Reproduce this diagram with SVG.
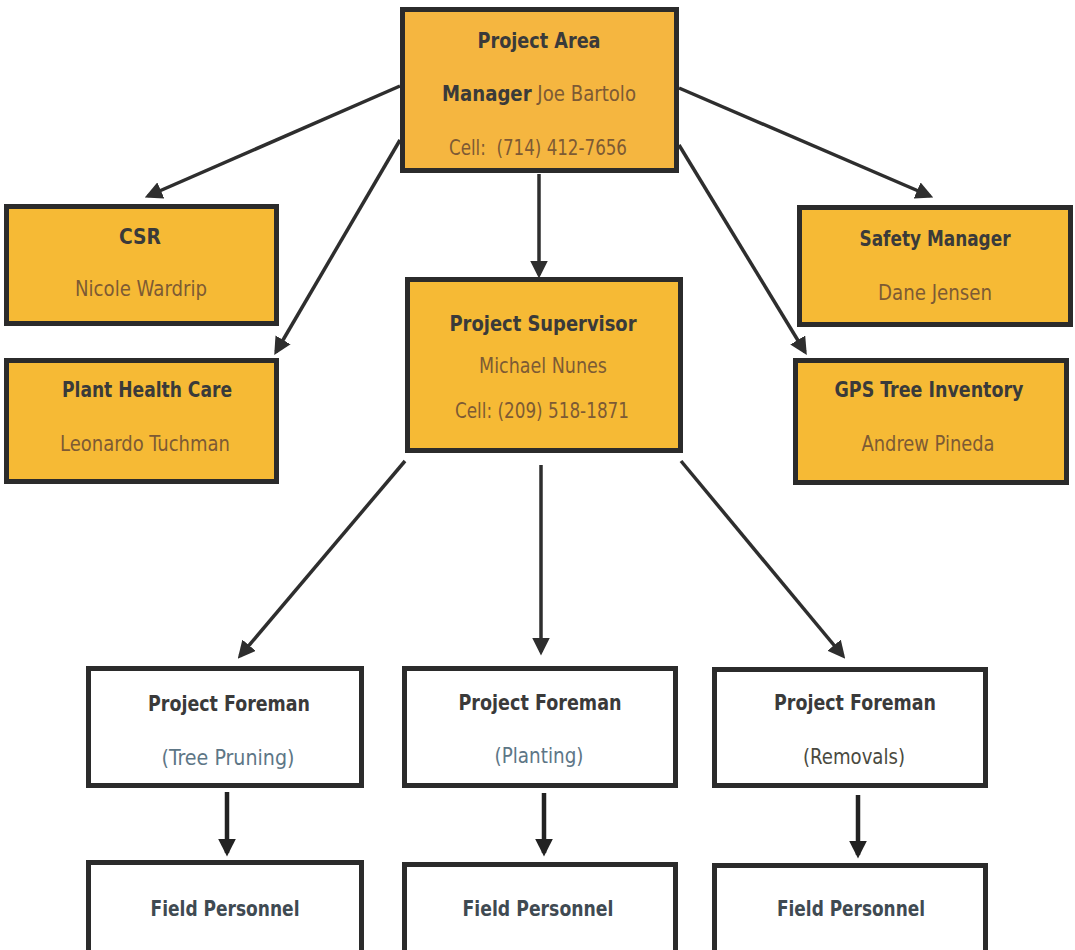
<svg xmlns="http://www.w3.org/2000/svg" width="1075" height="950" viewBox="0 0 1075 950">
<style>
.box{fill:#F6BA35;stroke:#2b2b2b;stroke-width:5}
.wbox{fill:#ffffff;stroke:#2b2b2b;stroke-width:5}
text{font-family:"DejaVu Sans Condensed","DejaVu Sans","Liberation Sans",sans-serif;font-size:21px;text-anchor:middle}
.t{font-weight:bold;fill:#3a3a3a}
.n{fill:#7d5a34}
.s{fill:#5d7686}
.f{font-weight:bold;fill:#3f4a52}
.c{stroke:#2e2e2e;stroke-width:3.5;fill:none;marker-end:url(#ah)}
.c2{stroke:#222;stroke-width:4.5;fill:none;marker-end:url(#ah2)}
</style>
<defs>
<marker id="ah" markerWidth="5" markerHeight="5" refX="4" refY="2.5" orient="auto" markerUnits="strokeWidth">
<path d="M0,0 L5,2.5 L0,5 z" fill="#2e2e2e"/>
</marker>
<marker id="ah2" markerWidth="4" markerHeight="4" refX="3.2" refY="2" orient="auto" markerUnits="strokeWidth">
<path d="M0,0 L4,2 L0,4 z" fill="#222"/>
</marker>
</defs>
<rect width="1075" height="950" fill="#ffffff"/>
<g id="connectors">
<line class="c" x1="400" y1="86" x2="148" y2="196"/>
<line class="c" x1="400" y1="140" x2="276" y2="352"/>
<line class="c" x1="539" y1="174" x2="539" y2="275"/>
<line class="c" x1="679" y1="88" x2="930" y2="196"/>
<line class="c" x1="679" y1="145" x2="805" y2="352"/>
<line class="c" x1="405" y1="461" x2="240" y2="656"/>
<line class="c" x1="541" y1="465" x2="541" y2="652"/>
<line class="c" x1="681" y1="461" x2="843" y2="656"/>
<line class="c2" x1="227" y1="792" x2="227" y2="853"/>
<line class="c2" x1="544" y1="793" x2="544" y2="853"/>
<line class="c2" x1="858" y1="795" x2="858" y2="855"/>
</g>
<g id="project-area">
<rect class="box" x="402.5" y="9.5" width="274" height="161" style="fill:#F5B640"/>
<text class="t" x="539" y="48" textLength="123" lengthAdjust="spacingAndGlyphs">Project Area</text>
<text x="539" y="101" textLength="194" lengthAdjust="spacingAndGlyphs"><tspan class="t">Manager</tspan><tspan class="n"> Joe Bartolo</tspan></text>
<text class="n" x="538" y="155" textLength="178" lengthAdjust="spacingAndGlyphs" xml:space="preserve">Cell:  (714) 412-7656</text>
</g>
<g id="csr">
<rect class="box" x="6.5" y="206.5" width="270" height="117"/>
<text class="t" x="140" y="244" textLength="42" lengthAdjust="spacingAndGlyphs">CSR</text>
<text class="n" x="141" y="296" textLength="132" lengthAdjust="spacingAndGlyphs">Nicole Wardrip</text>
</g>
<g id="plant-health-care">
<rect class="box" x="6.5" y="360.5" width="270" height="121"/>
<text class="t" x="147" y="397" textLength="170" lengthAdjust="spacingAndGlyphs">Plant Health Care</text>
<text class="n" x="145" y="451" textLength="170" lengthAdjust="spacingAndGlyphs">Leonardo Tuchman</text>
</g>
<g id="safety-manager">
<rect class="box" x="799.5" y="207.5" width="271" height="117"/>
<text class="t" x="935" y="246" textLength="151" lengthAdjust="spacingAndGlyphs">Safety Manager</text>
<text class="n" x="935" y="300" textLength="114" lengthAdjust="spacingAndGlyphs">Dane Jensen</text>
</g>
<g id="gps-tree-inventory">
<rect class="box" x="795.5" y="360.5" width="271" height="122"/>
<text class="t" x="929" y="397" textLength="189" lengthAdjust="spacingAndGlyphs">GPS Tree Inventory</text>
<text class="n" x="928" y="451" textLength="133" lengthAdjust="spacingAndGlyphs">Andrew Pineda</text>
</g>
<g id="project-supervisor">
<rect class="box" x="407.5" y="279.5" width="273" height="171"/>
<text class="t" x="543" y="331" textLength="187" lengthAdjust="spacingAndGlyphs">Project Supervisor</text>
<text class="n" x="543" y="373" textLength="128" lengthAdjust="spacingAndGlyphs">Michael Nunes</text>
<text class="n" x="542" y="418" textLength="174" lengthAdjust="spacingAndGlyphs">Cell: (209) 518-1871</text>
</g>
<g id="foreman-pruning">
<rect class="wbox" x="88.5" y="668.5" width="273" height="117"/>
<text class="t" x="229" y="711" textLength="162" lengthAdjust="spacingAndGlyphs">Project Foreman</text>
<text class="s" x="228" y="765" textLength="133" lengthAdjust="spacingAndGlyphs">(Tree Pruning)</text>
</g>
<g id="foreman-planting">
<rect class="wbox" x="404.5" y="668.5" width="271" height="117"/>
<text class="t" x="540" y="710" textLength="163" lengthAdjust="spacingAndGlyphs">Project Foreman</text>
<text class="s" x="539" y="763" textLength="89" lengthAdjust="spacingAndGlyphs">(Planting)</text>
</g>
<g id="foreman-removals">
<rect class="wbox" x="714.5" y="669.5" width="271" height="116"/>
<text class="t" x="855" y="710" textLength="162" lengthAdjust="spacingAndGlyphs">Project Foreman</text>
<text class="n" x="854" y="764" textLength="102" lengthAdjust="spacingAndGlyphs" style="fill:#4a4a40">(Removals)</text>
</g>
<g id="field-1">
<rect class="wbox" x="88.5" y="862.5" width="273" height="90"/>
<text class="f" x="225" y="916" textLength="149" lengthAdjust="spacingAndGlyphs">Field Personnel</text>
</g>
<g id="field-2">
<rect class="wbox" x="404.5" y="864.5" width="271" height="90"/>
<text class="f" x="538" y="916" textLength="151" lengthAdjust="spacingAndGlyphs">Field Personnel</text>
</g>
<g id="field-3">
<rect class="wbox" x="714.5" y="865.5" width="271" height="90"/>
<text class="f" x="851" y="916" textLength="148" lengthAdjust="spacingAndGlyphs">Field Personnel</text>
</g>
</svg>
